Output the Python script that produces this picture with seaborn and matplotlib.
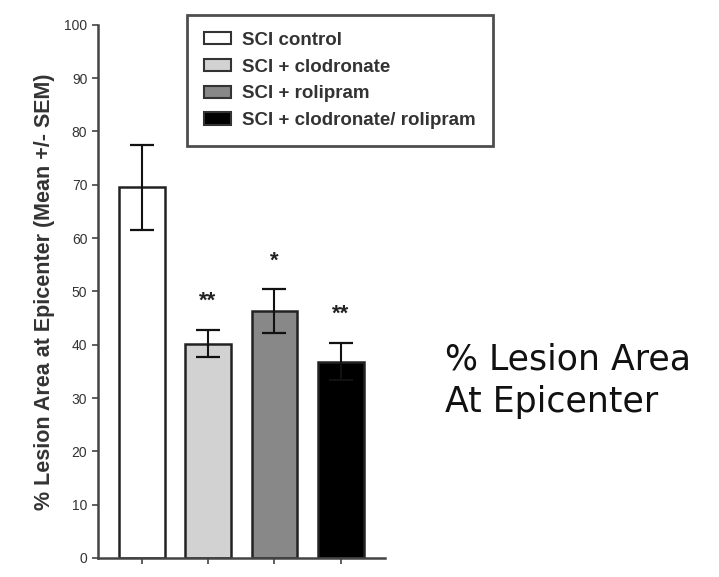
import matplotlib
matplotlib.use("Agg")
import matplotlib.pyplot as plt
import seaborn as sns
import pandas as pd
from matplotlib.patches import Patch

groups = ["SCI control", "SCI + clodronate", "SCI + rolipram", "SCI + clodronate/ rolipram"]
means = [69.5, 40.2, 46.3, 36.8]
sems = [7.9, 2.6, 4.1, 3.5]
stars = ["", "**", "*", "**"]
colors = ["#ffffff", "#d2d2d2", "#888888", "#000000"]
y_ticks = [0, 10, 20, 30, 40, 50, 60, 70, 80, 90, 100]

sns.set_theme(style="ticks")
plt.rcParams["font.family"] = ["Liberation Sans", "DejaVu Sans"]

fig = plt.figure(figsize=(7.19, 5.77), dpi=100)
ax = fig.add_axes([0.136, 0.033, 0.400, 0.924])

df = pd.DataFrame({"group": groups, "mean": means})
sns.barplot(data=df, x="group", y="mean", hue="group", palette=colors,
            order=groups, hue_order=groups, width=0.69, edgecolor="#222222",
            linewidth=1.8, legend=False, ax=ax)

for i, (m, s) in enumerate(zip(means, sems)):
    ax.errorbar(i, m, yerr=s, fmt="none", ecolor="#111111", elinewidth=1.5,
                capsize=8.3, capthick=1.6, zorder=5)
    if stars[i]:
        ax.text(i, m + s + 4.3, stars[i], ha="center", va="baseline",
                fontsize=16, fontweight="bold", color="#222222")

ax.set_xlim(-0.66, 3.67)
ax.set_ylim(0, 100)
ax.set_yticks(y_ticks)
ax.set_yticklabels([str(t) for t in y_ticks], fontsize=10, color="#333333")
ax.set_xticks(range(len(groups)))
ax.set_xticklabels([""] * len(groups))
ax.set_xlabel("")
ax.set_ylabel("% Lesion Area at Epicenter (Mean +/- SEM)", fontsize=15.5,
              fontweight="bold", color="#333333", labelpad=7)
sns.despine(ax=ax)
for side in ("left", "bottom"):
    ax.spines[side].set_linewidth(1.8)
    ax.spines[side].set_color("#444444")
ax.tick_params(axis="both", length=4, width=1.2, color="#444444")

handles = [Patch(facecolor=c, edgecolor="#333333", linewidth=1.5, label=g)
           for c, g in zip(colors, groups)]
leg = fig.legend(handles=handles, loc="upper left",
                 bbox_to_anchor=(187 / 719, 1 - 15 / 577), frameon=True,
                 fancybox=False, fontsize=13.5, labelspacing=0.52,
                 handlelength=1.45, handleheight=0.62, handletextpad=0.6,
                 borderpad=0.9, borderaxespad=0)
leg.get_frame().set_edgecolor("#222222")
leg.get_frame().set_linewidth(2.0)
for t in leg.get_texts():
    t.set_color("#333333")
    t.set_fontweight("bold")

fig.text(445 / 719, 1 - 381 / 577, "% Lesion Area\nAt Epicenter", fontsize=25,
         family=["DejaVu Sans"], ha="left", va="center", linespacing=1.3,
         color="#111111")

fig.savefig("out.png", dpi=100, facecolor="white")
